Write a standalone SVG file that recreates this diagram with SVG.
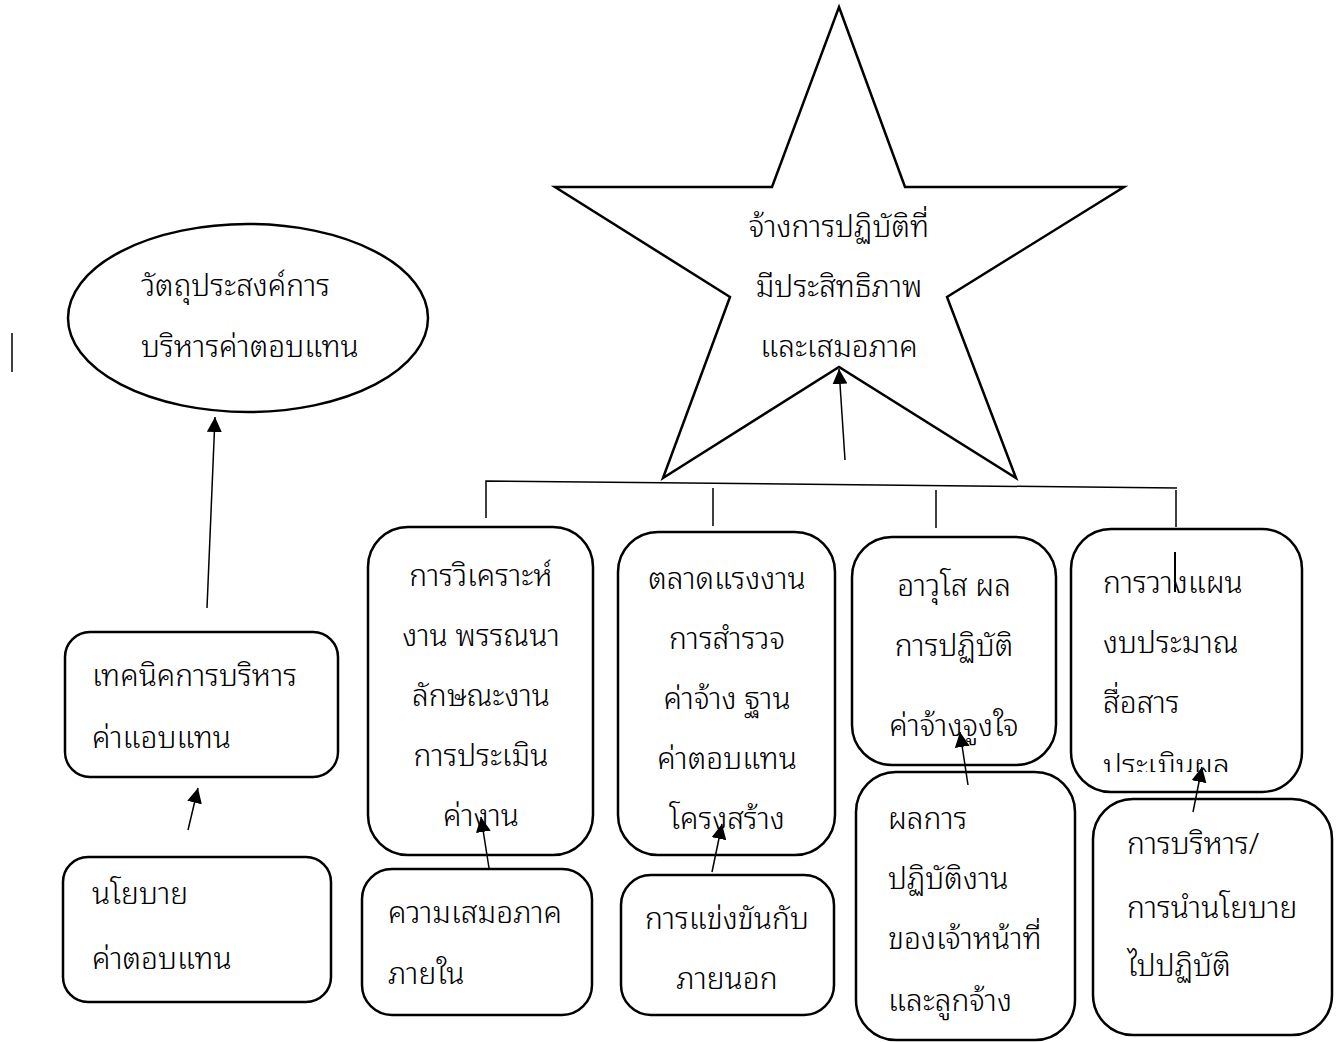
<svg xmlns="http://www.w3.org/2000/svg" width="1342" height="1042" viewBox="0 0 1342 1042">
<defs>
<marker id="ah" viewBox="0 0 10 10" refX="10" refY="5" markerWidth="15" markerHeight="15" markerUnits="userSpaceOnUse" orient="auto">
<path d="M0,0 L10,5 L0,10 z" fill="#000"/>
</marker>
<clipPath id="clipPlan"><rect x="1071" y="529" width="231" height="243"/></clipPath>
</defs>
<style>
.shape{fill:#fff;stroke:#000;stroke-width:2.5}
.t{font-family:"Noto Sans Thai Looped","Loma","Garuda","Tahoma","Noto Sans Thai","DejaVu Sans",sans-serif;font-size:30px;font-weight:300;fill:#000}
.c{text-anchor:middle}
.ln{stroke:#000;stroke-width:1.5;fill:none}
.ar{stroke:#000;stroke-width:1.5;fill:none;marker-end:url(#ah)}
</style>
<rect width="1342" height="1042" fill="#fff"/>

<g id="star">
<polygon class="shape" points="839,7 905,187 1124,187 947,297 1016,478 839,367 663,478 730,297 555,187 772,187"/>
<text class="t c" x="839" y="237">จ้างการปฏิบัติที่</text>
<text class="t c" x="839" y="297">มีประสิทธิภาพ</text>
<text class="t c" x="839" y="357">และเสมอภาค</text>
</g>

<g id="objective">
<ellipse class="shape" cx="248" cy="318" rx="180" ry="94"/>
<text class="t" x="141" y="296">วัตถุประสงค์การ</text>
<text class="t" x="141" y="357">บริหารค่าตอบแทน</text>
</g>

<g id="technique">
<rect class="shape" x="65" y="632" width="273" height="145" rx="25"/>
<text class="t" x="92" y="686">เทคนิคการบริหาร</text>
<text class="t" x="92" y="748">ค่าแอบแทน</text>
</g>

<g id="policy">
<rect class="shape" x="63" y="857" width="268" height="145" rx="25"/>
<text class="t" x="92" y="904">นโยบาย</text>
<text class="t" x="92" y="969">ค่าตอบแทน</text>
</g>

<g id="jobanalysis">
<rect class="shape" x="368" y="527" width="225" height="328" rx="40"/>
<text class="t c" x="481" y="586">การวิเคราะห์</text>
<text class="t c" x="481" y="646">งาน พรรณนา</text>
<text class="t c" x="481" y="706">ลักษณะงาน</text>
<text class="t c" x="481" y="766">การประเมิน</text>
<text class="t c" x="481" y="826">ค่างาน</text>
</g>

<g id="internal">
<rect class="shape" x="362" y="869" width="230" height="146" rx="30"/>
<text class="t" x="388" y="923">ความเสมอภาค</text>
<text class="t" x="388" y="984">ภายใน</text>
</g>

<g id="market">
<rect class="shape" x="618" y="532" width="217" height="323" rx="40"/>
<text class="t c" x="727" y="589">ตลาดแรงงาน</text>
<text class="t c" x="727" y="649">การสำรวจ</text>
<text class="t c" x="727" y="709">ค่าจ้าง ฐาน</text>
<text class="t c" x="727" y="769">ค่าตอบแทน</text>
<text class="t c" x="727" y="829">โครงสร้าง</text>
</g>

<g id="external">
<rect class="shape" x="621" y="875" width="213" height="140" rx="30"/>
<text class="t c" x="727" y="929">การแข่งขันกับ</text>
<text class="t c" x="727" y="989">ภายนอก</text>
</g>

<g id="seniority">
<rect class="shape" x="852" y="537" width="204" height="228" rx="40"/>
<text class="t c" x="954" y="596">อาวุโส ผล</text>
<text class="t c" x="954" y="656">การปฏิบัติ</text>
<text class="t c" x="954" y="736">ค่าจ้างจูงใจ</text>
</g>

<g id="performance">
<rect class="shape" x="856" y="772" width="219" height="268" rx="40"/>
<text class="t" x="888" y="829">ผลการ</text>
<text class="t" x="888" y="889">ปฏิบัติงาน</text>
<text class="t" x="888" y="949">ของเจ้าหน้าที่</text>
<text class="t" x="888" y="1011">และลูกจ้าง</text>
</g>

<g id="planning">
<rect class="shape" x="1071" y="529" width="231" height="263" rx="40"/>
<text class="t" x="1103" y="593">การวางแผน</text>
<text class="t" x="1103" y="653">งบประมาณ</text>
<text class="t" x="1103" y="713">สื่อสาร</text>
<text class="t" x="1103" y="776" clip-path="url(#clipPlan)">ประเมินผล</text>
<line x1="1175" y1="552" x2="1175" y2="592" stroke="#000" stroke-width="2"/>
</g>

<g id="administration">
<rect class="shape" x="1093" y="799" width="239" height="236" rx="40"/>
<text class="t" x="1127" y="854">การบริหาร/</text>
<text class="t" x="1127" y="918">การนำนโยบาย</text>
<text class="t" x="1127" y="976">ไปปฏิบัติ</text>
</g>

<g id="connectors">
<line class="ln" x1="12" y1="333" x2="12" y2="372"/>
<polyline class="ln" points="486,518 486,481 1177,488"/>
<line class="ln" x1="713" y1="488" x2="713" y2="526"/>
<line class="ln" x1="936" y1="490" x2="936" y2="528"/>
<line class="ln" x1="1176" y1="490" x2="1176" y2="527"/>
<line class="ar" x1="845" y1="460" x2="839" y2="369"/>
<line class="ar" x1="207" y1="608" x2="215" y2="417"/>
<line class="ar" x1="188" y1="830" x2="198" y2="788"/>
<line class="ar" x1="489" y1="868" x2="481" y2="817"/>
<line class="ar" x1="712" y1="872" x2="722" y2="824"/>
<line class="ar" x1="968" y1="785" x2="960" y2="732"/>
<line class="ar" x1="1193" y1="812" x2="1202" y2="767"/>
</g>
</svg>
